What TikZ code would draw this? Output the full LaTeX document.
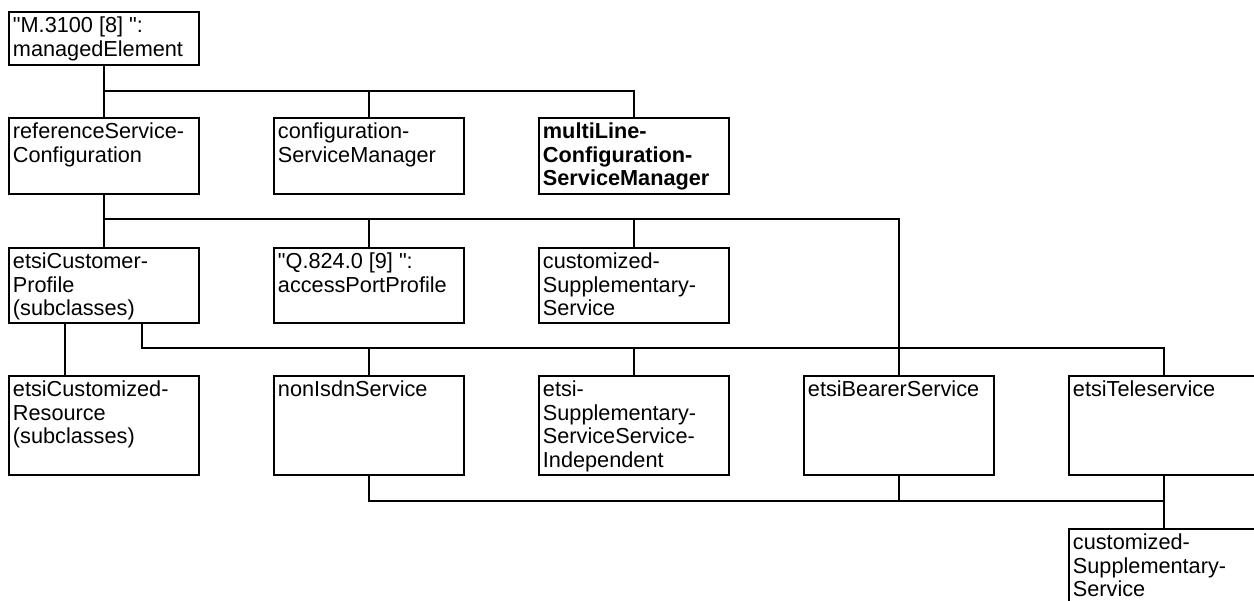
\documentclass[tikz,border=0pt]{standalone}
\usepackage{fontspec}
\setmainfont{Liberation Sans}[Ligatures=TeXOff]
\usetikzlibrary{calc}
\tikzset{
  cls/.style={draw, line width=1.9pt, inner xsep=4pt, inner ysep=0pt, anchor=north west,
    font=\fontsize{21.7}{23.5}\selectfont},
  link/.style={line width=1.9pt},
}
\newcommand{\bx}[2]{\parbox[c][#1][t]{182pt}{\rule{0pt}{21pt}#2}}
\begin{document}
\begin{tikzpicture}[x=1pt,y=-1pt]
\path[use as bounding box, clip] (0,0) rectangle (1254,601);
% row 1
\node[cls] (me) at (8,11) {\bx{53pt}{"M.3100 [8] ":\\managedElement}};
% row 2
\node[cls] (rsc) at (8,117) {\bx{76pt}{referenceService-\\Configuration}};
\node[cls] (csm) at (273,117) {\bx{76pt}{configuration-\\ServiceManager}};
\node[cls] (mlc) at (538,117) {\bx{76pt}{\bfseries multiLine-\\Configuration-\\ServiceManager}};
% row 3
\node[cls] (ecp) at (8,247) {\bx{75pt}{etsiCustomer-\\Profile\\(subclasses)}};
\node[cls] (q824) at (273,247) {\bx{75pt}{"Q.824.0 [9] ":\\accessPortProfile}};
\node[cls] (css1) at (538,247) {\bx{75pt}{customized-\\Supplementary-\\Service}};
% row 4
\node[cls] (ecr) at (8,375) {\bx{99pt}{etsiCustomized-\\Resource\\(subclasses)}};
\node[cls] (nis) at (273,375) {\bx{99pt}{nonIsdnService}};
\node[cls] (ess) at (538,375) {\bx{99pt}{etsi-\\Supplementary-\\ServiceService-\\Independent}};
\node[cls] (ebs) at (803,375) {\bx{99pt}{etsiBearerService}};
\node[cls] (ets) at (1068,375) {\bx{99pt}{etsiTeleservice}};
% row 5
\node[cls] (css2) at (1068,528) {\bx{76pt}{customized-\\Supplementary-\\Service}};
% bus levels
\coordinate (b1) at (0,91);
\coordinate (b2) at (0,219);
\coordinate (b3) at (0,348);
\coordinate (b4) at (0,501);
% connectors row1 -> row2
\draw[link] (me.south) -- (rsc.north);
\draw[link] (rsc.north |- b1) -- (mlc.north |- b1) -- (mlc.north);
\draw[link] (csm.north |- b1) -- (csm.north);
% row2 -> row3
\draw[link] (rsc.south) -- (ecp.north);
\draw[link] (ecp.north |- b2) -- (ebs.north |- b2) -- (ebs.north);
\draw[link] (q824.north |- b2) -- (q824.north);
\draw[link] (css1.north |- b2) -- (css1.north);
% row3 -> row4
\coordinate (p1) at ($(ecp.south west)+(57,0)$);
\coordinate (p2) at ($(ecp.south west)+(134,0)$);
\draw[link] (p1) -- (p1 |- ecr.north);
\draw[link] (p2) -- (p2 |- b3) -- (ets.north |- b3) -- (ets.north);
\draw[link] (nis.north |- b3) -- (nis.north);
\draw[link] (ess.north |- b3) -- (ess.north);
% row4 -> row5
\draw[link] (nis.south) -- (nis.south |- b4) -- (ets.south |- b4);
\draw[link] (ebs.south) -- (ebs.south |- b4);
\draw[link] (ets.south) -- (css2.north);
\end{tikzpicture}
\end{document}
